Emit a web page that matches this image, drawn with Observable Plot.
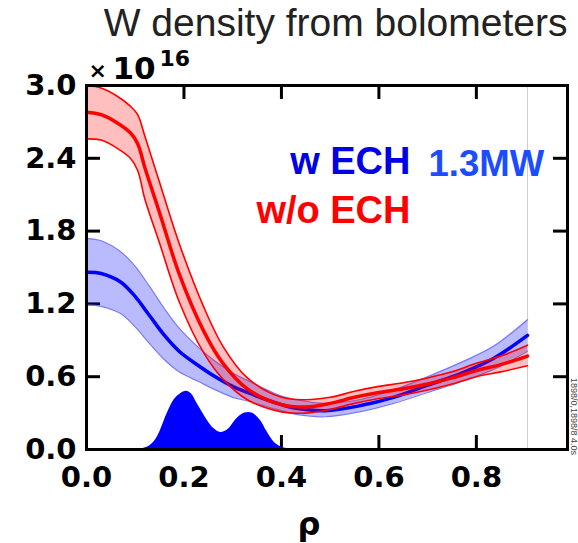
<!DOCTYPE html>
<html><head><meta charset="utf-8">
<script src="https://cdn.jsdelivr.net/npm/d3@7"></script>
<script src="https://cdn.jsdelivr.net/npm/@observablehq/plot@0.6"></script>
<style>body{margin:0;background:#fff} svg{display:block}</style>
</head><body><div id="chart"></div>
<script>
// ---- data ----
const rhoRed   = [0.00,0.03,0.06,0.09,0.105,0.12,0.15,0.19,0.24,0.28,0.33,0.40,0.45,0.50,0.55,0.60,0.65,0.70,0.75,0.80,0.85,0.905];
const redMean  = [2.78,2.76,2.70,2.61,2.52,2.32,1.95,1.45,0.98,0.71,0.50,0.37,0.35,0.38,0.43,0.47,0.50,0.54,0.59,0.65,0.70,0.77];
const redUpper = [3.00,2.98,2.92,2.83,2.76,2.58,2.20,1.70,1.18,0.85,0.59,0.43,0.41,0.43,0.48,0.52,0.55,0.59,0.64,0.71,0.77,0.86];
const redLower = [2.56,2.55,2.49,2.40,2.30,2.06,1.70,1.22,0.80,0.58,0.41,0.31,0.30,0.33,0.38,0.42,0.45,0.49,0.54,0.60,0.64,0.69];

const rhoBlue   = [0.00,0.03,0.07,0.10,0.13,0.16,0.19,0.23,0.26,0.30,0.33,0.40,0.43,0.49,0.56,0.63,0.70,0.77,0.835,0.905];
const blueMean  = [1.46,1.45,1.38,1.26,1.10,0.94,0.81,0.69,0.61,0.52,0.47,0.37,0.34,0.32,0.36,0.43,0.53,0.63,0.75,0.94];
const blueUpper = [1.74,1.72,1.63,1.51,1.34,1.16,1.00,0.84,0.74,0.63,0.57,0.44,0.41,0.38,0.41,0.49,0.60,0.72,0.85,1.07];
const blueLower = [1.19,1.18,1.12,1.01,0.87,0.74,0.64,0.56,0.50,0.43,0.40,0.32,0.29,0.27,0.31,0.38,0.47,0.56,0.66,0.81];

const rhoECH = [0.11,0.13,0.145,0.166,0.18,0.193,0.205,0.215,0.227,0.248,0.262,0.275,0.289,0.31,0.325,0.34,0.357,0.37,0.385,0.40,0.418];
const ech    = [0.00,0.03,0.10,0.30,0.41,0.46,0.48,0.46,0.38,0.24,0.17,0.14,0.16,0.26,0.30,0.30,0.24,0.15,0.06,0.02,0.00];

const rhoEdge = [0.905];
const xTicks = [0, 0.2, 0.4, 0.6, 0.8];
const yTicks = [0, 0.6, 1.2, 1.8, 2.4, 3.0];
const xDomain = [0, 0.987];
const yDomain = [0, 3.0];

const titleText = "W density from bolometers";
const xLabel = "ρ";
const expTimes = "×", expBase = "10", expPow = "16";
const labelWith = "w ECH";
const labelPower = "1.3MW";
const labelWithout = "w/o ECH";
const shotText = "1898/0,1898/8 4.0s";

// ---- tables ----
const red = rhoRed.map((r,i)=>({rho:r, mean:redMean[i], lo:redLower[i], hi:redUpper[i]}));
const blue = rhoBlue.map((r,i)=>({rho:r, mean:blueMean[i], lo:blueLower[i], hi:blueUpper[i]}));
const echT = rhoECH.map((r,i)=>({rho:r, v:ech[i]}));

const W=578, H=543, mL=86, mR=11, mT=85, mB=94;
const pw = W-mL-mR, ph = H-mT-mB, tl = 14;
const curve = "catmull-rom";
const numFont = "DejaVu Sans";
const sansFont = "Liberation Sans, Arial, sans-serif";

const chart = Plot.plot({
  width: W, height: H,
  marginLeft: mL, marginRight: mR, marginTop: mT, marginBottom: mB,
  x: {domain: xDomain},
  y: {domain: yDomain},
  style: {background: "white", color: "black"},
  marks: [
    Plot.ruleX(rhoEdge, {x: d=>d, stroke: "#cccccc", strokeWidth: 1}),
    Plot.tickY(yTicks.slice(1,-1), {y: d=>d, insetRight: pw-tl, strokeWidth: 3}),
    Plot.tickY(yTicks.slice(1,-1), {y: d=>d, insetLeft: pw-tl, strokeWidth: 3}),
    Plot.tickX(xTicks.slice(1), {x: d=>d, insetBottom: ph-tl, strokeWidth: 3}),
    Plot.tickX(xTicks.slice(1), {x: d=>d, insetTop: ph-tl, strokeWidth: 3}),
    Plot.areaY(echT, {x: "rho", y: "v", fill: "#0000ff", curve}),
    Plot.areaY(blue, {x: "rho", y1: "lo", y2: "hi", fill: "#0000ff", fillOpacity: 0.27, curve}),
    Plot.line(blue, {x: "rho", y: "hi", stroke: "#7b7bf0", strokeWidth: 1.2, curve}),
    Plot.line(blue, {x: "rho", y: "lo", stroke: "#7b7bf0", strokeWidth: 1.2, curve}),
    Plot.line(blue, {x: "rho", y: "mean", stroke: "#0000ff", strokeWidth: 3.5, curve}),
    Plot.areaY(red, {x: "rho", y1: "lo", y2: "hi", fill: "#ff0000", fillOpacity: 0.25, curve}),
    Plot.line(red, {x: "rho", y: "hi", stroke: "#ff0000", strokeWidth: 1.6, curve}),
    Plot.line(red, {x: "rho", y: "lo", stroke: "#ff0000", strokeWidth: 1.6, curve}),
    Plot.line(red, {x: "rho", y: "mean", stroke: "#ff0000", strokeWidth: 3.5, curve}),
    Plot.frame({stroke: "black", strokeWidth: 3}),
    Plot.axisX(xTicks, {tickSize: 0, tickPadding: 17, tickFormat: d3.format(".1f"), label: null,
      fontSize: 29, fontWeight: "bold", fontFamily: numFont}),
    Plot.axisY(yTicks, {tickSize: 0, tickPadding: 10, tickFormat: d3.format(".1f"), label: null,
      fontSize: 29, fontWeight: "bold", fontFamily: numFont}),
    Plot.text([titleText], {frameAnchor: "top-right", text: d=>d, textAnchor: "end", lineAnchor: "bottom",
      dy: -50, fontSize: 39, fontFamily: sansFont, fill: "#222"}),
    Plot.text([expTimes], {frameAnchor: "top-left", text: d=>d, textAnchor: "start", lineAnchor: "bottom",
      dx: 2, dy: -8, fontSize: 22, fontWeight: "bold", fontFamily: numFont}),
    Plot.text([expBase], {frameAnchor: "top-left", text: d=>d, textAnchor: "start", lineAnchor: "bottom",
      dx: 26, dy: -7, fontSize: 31, fontWeight: "bold", fontFamily: numFont}),
    Plot.text([expPow], {frameAnchor: "top-left", text: d=>d, textAnchor: "start", lineAnchor: "bottom",
      dx: 73, dy: -20, fontSize: 22, fontWeight: "bold", fontFamily: numFont}),
    Plot.text([labelWith], {frameAnchor: "top-left", text: d=>d, textAnchor: "end", lineAnchor: "bottom",
      dx: 324, dy: 88, fontSize: 38, fontWeight: "bold", fontFamily: sansFont, fill: "#0000e6"}),
    Plot.text([labelPower], {frameAnchor: "top-left", text: d=>d, textAnchor: "start", lineAnchor: "bottom",
      dx: 342, dy: 90, fontSize: 36.5, fontWeight: "bold", fontFamily: sansFont, fill: "#1a4dff"}),
    Plot.text([labelWithout], {frameAnchor: "top-left", text: d=>d, textAnchor: "end", lineAnchor: "bottom",
      dx: 324, dy: 137, fontSize: 38, fontWeight: "bold", fontFamily: sansFont, fill: "#ff0000"}),
    Plot.text([xLabel], {frameAnchor: "bottom", text: d=>d, textAnchor: "middle", lineAnchor: "bottom",
      dx: -18, dy: 85, fontSize: 32, fontWeight: "bold", fontFamily: numFont}),
    Plot.text([shotText], {frameAnchor: "right", text: d=>d, textAnchor: "middle", rotate: 90,
      dx: 6, dy: 149, fontSize: 9, fontFamily: sansFont, fill: "#444"})
  ]
});
document.getElementById("chart").appendChild(chart);
</script>
</body></html>
